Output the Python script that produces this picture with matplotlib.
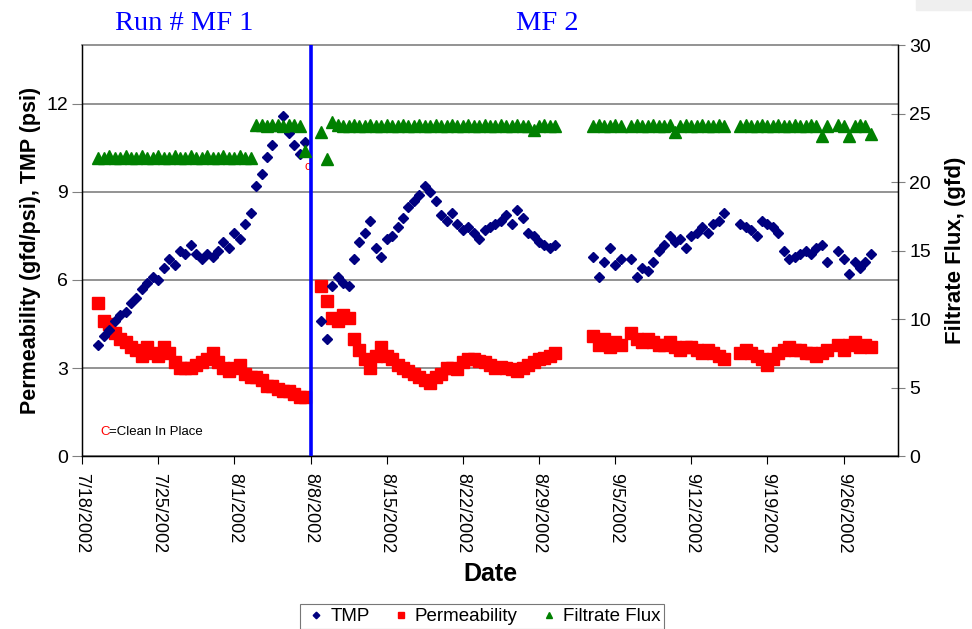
import numpy as np
import pandas as pd
import matplotlib
matplotlib.use('Agg')
import matplotlib.pyplot as plt
from matplotlib.patches import Rectangle

plt.rcParams['font.family'] = ['Liberation Sans', 'DejaVu Sans']

nan = np.nan

# --- run MF 1 (half-day readings) ---
run1_dates = pd.date_range('2002-07-19 12:00', periods=39, freq='12h')
run1_tmp = [3.8, 4.1, 4.3, 4.6, 4.8, 4.9, 5.2, 5.4, 5.7, 5.9,
            6.1, 6.0, 6.4, 6.7, 6.5, 7.0, 6.9, 7.2, 6.9, 6.7,
            6.9, 6.8, 7.0, 7.3, 7.1, 7.6, 7.4, 7.9, 8.3, 9.2,
            9.6, 10.2, 10.6, 11.2, 11.6, 11.0, 10.6, 10.3, 10.7]
run1_perm = [5.2, 4.6, 4.5, 4.2, 4.0, 3.9, 3.7, 3.6, 3.4, 3.7,
             3.5, 3.4, 3.7, 3.5, 3.2, 3.0, 3.0, 3.0, 3.1, 3.2,
             3.3, 3.5, 3.2, 3.0, 2.9, 3.0, 3.1, 2.8, 2.7, 2.7,
             2.6, 2.4, 2.4, 2.3, 2.2, 2.2, 2.1, 2.0, 2.0]
run1_flux = [21.8, 21.8, 21.9, 21.8, 21.8, 21.9, 21.8, 21.8, 21.9, 21.8,
             21.8, 21.9, 21.8, 21.8, 21.9, 21.8, 21.8, 21.9, 21.8, 21.8,
             21.9, 21.8, 21.8, 21.9, 21.8, 21.8, 21.9, 21.8, 21.8, 24.2,
             24.2, 24.1, 24.2, 24.2, 24.1, 24.2, 24.2, 24.1, 22.3]

# --- run MF 2, first part ---
run2a_dates = pd.date_range('2002-08-09 00:00', periods=44, freq='12h')
run2a_tmp = [4.6, 4.0, 5.8, 6.1, 5.9, 5.8, 6.7, 7.3, 7.6, 8.0,
             7.1, 6.8, 7.4, 7.5, 7.8, 8.1, 8.5, 8.7, 8.9, 9.2,
             9.0, 8.7, 8.2, 8.0, 8.3, 7.9, 7.7, 7.8, 7.6, 7.4,
             7.7, 7.8, 7.9, 8.0, 8.2, 7.9, 8.4, 8.1, 7.6, 7.5,
             7.3, 7.2, 7.1, 7.2]
run2a_perm = [5.8, 5.3, 4.7, 4.6, 4.8, 4.7, 4.0, 3.6, 3.3, 3.0,
              3.4, 3.7, 3.4, 3.3, 3.1, 3.0, 2.9, 2.8, 2.7, 2.6,
              2.5, 2.7, 2.8, 3.0, 3.0, 2.95, 3.2, 3.3, 3.3, 3.25,
              3.2, 3.1, 3.0, 3.05, 3.0, 2.95, 2.9, 3.0, 3.1, 3.2,
              3.3, 3.35, 3.4, 3.5]
run2a_flux = [23.7, 21.7, 24.4, 24.2, 24.1, 24.1, 24.2, 24.1, 24.1, 24.2,
              24.1, 24.1, 24.2, 24.1, 24.1, 24.2, 24.1, 24.1, 24.2, 24.1,
              24.1, 24.2, 24.1, 24.1, 24.2, 24.1, 24.1, 24.2, 24.1, 24.1,
              24.2, 24.1, 24.1, 24.2, 24.1, 24.1, 24.2, 24.1, 24.1, 23.8,
              24.1, 24.2, 24.1, 24.1]

# --- run MF 2, second part ---
run2b_dates = pd.date_range('2002-09-03 00:00', periods=52, freq='12h')
run2b_tmp = [6.8, 6.1, 6.6, 7.1, 6.5, 6.7, nan, 6.7, 6.1, 6.4,
             6.3, 6.6, 7.0, 7.2, 7.5, 7.3, 7.4, 7.1, 7.5, 7.6,
             7.8, 7.6, 7.9, 8.0, 8.3, nan, nan, 7.9, 7.8, 7.7,
             7.5, 8.0, 7.9, 7.8, 7.6, 7.0, 6.7, 6.8, 6.9, 7.0,
             6.9, 7.1, 7.2, 6.6, nan, 7.0, 6.7, 6.2, 6.6, 6.4,
             6.6, 6.9]
run2b_perm = [4.1, 3.8, 4.0, 3.7, 3.9, 3.8, nan, 4.2, 4.0, 3.9,
              4.0, 3.9, 3.8, 3.8, 3.9, 3.7, 3.6, 3.7, 3.7, 3.6,
              3.5, 3.6, 3.5, 3.4, 3.3, nan, nan, 3.5, 3.6, 3.5,
              3.4, 3.3, 3.1, 3.3, 3.5, 3.6, 3.7, 3.6, 3.6, 3.5,
              3.5, 3.4, 3.5, 3.6, nan, 3.8, 3.6, 3.8, 3.9, 3.7,
              3.8, 3.7]
run2b_flux = [24.1, 24.2, 24.1, 24.1, 24.2, 24.1, nan, 24.1, 24.2, 24.1,
              24.1, 24.2, 24.1, 24.1, 24.2, 23.7, 24.1, 24.2, 24.1, 24.1,
              24.2, 24.1, 24.1, 24.2, 24.1, nan, nan, 24.1, 24.2, 24.1,
              24.1, 24.2, 24.1, 24.1, 24.2, 24.1, 24.1, 24.2, 24.1, 24.1,
              24.2, 24.1, 23.4, 24.1, nan, 24.2, 24.1, 23.4, 24.1, 24.2,
              24.1, 23.5]

dates = run1_dates.append(run2a_dates).append(run2b_dates)
tmp = run1_tmp + run2a_tmp + run2b_tmp
perm = run1_perm + run2a_perm + run2b_perm
flux = run1_flux + run2a_flux + run2b_flux

cip_date = pd.Timestamp('2002-08-08')
week_ticks = pd.date_range('2002-07-18', '2002-09-26', freq='7D')

fig = plt.figure(figsize=(9.72, 6.29), dpi=100)
fig.patches.append(Rectangle((0.942, 0.984), 0.06, 0.02, transform=fig.transFigure,
                             color='#efefef', zorder=0))
ax = fig.add_axes([0.0844, 0.275, 0.8395, 0.653])
ax2 = ax.twinx()

l1, = ax.plot(dates, tmp, 'D', color='#000080', ms=5.6, mec='#000080', label='TMP', zorder=3)
l2, = ax.plot(dates, perm, 's', color='#ff0000', ms=8, mec='#ff0000', label='Permeability', zorder=2)
l3, = ax2.plot(dates, flux, '^', color='#008000', ms=8, mec='#008000', label='Filtrate Flux')
ax.axvline(cip_date, color='#0000ff', lw=2.6, zorder=4)

ax.set_xlim(pd.Timestamp('2002-07-18'), pd.Timestamp('2002-10-01'))
ax.set_ylim(0, 14)
ax2.set_ylim(0, 30)
ax.set_yticks([0, 3, 6, 9, 12])
ax2.set_yticks([0, 5, 10, 15, 20, 25, 30])
ax.set_xticks(week_ticks)
ax.set_xticklabels([f'{d.month}/{d.day}/{d.year}' for d in week_ticks], rotation=270)
ax.grid(axis='y', color='#808080', lw=1.2)
ax.set_axisbelow(True)

ax.tick_params(axis='y', labelsize=14, length=7, direction='out', color='#808080', pad=3)
ax.tick_params(axis='x', labelsize=13, length=6, direction='out', pad=6)
ax2.tick_params(axis='y', labelsize=14, length=10, direction='inout', color='#808080', pad=3)
ax.spines['top'].set_color('#808080')
ax.spines['top'].set_linewidth(1.2)
ax2.spines['top'].set_visible(False)
for sp in ['left', 'bottom']:
    ax.spines[sp].set_linewidth(1.0)
ax2.spines['right'].set_linewidth(1.0)

ax.set_ylabel('Permeability (gfd/psi), TMP (psi)', fontsize=15.5, fontweight='bold', labelpad=4)
ax2.set_ylabel('Filtrate Flux, (gfd)', fontsize=16, fontweight='bold', labelpad=10)
ax.set_xlabel('Date', fontsize=18, fontweight='bold', labelpad=6)

fig.text(0.19, 0.962, 'Run # MF 1', color='#0000ff', fontsize=20.5,
         family='Liberation Serif', ha='center', va='center')
fig.text(0.563, 0.962, 'MF 2', color='#0000ff', fontsize=20.5,
         family='Liberation Serif', ha='center', va='center')

ax.text(pd.Timestamp('2002-08-07 18:00'), 9.85, 'c', color='#ff0000', fontsize=9,
        ha='center', va='center')
ax.text(0.022, 0.052, 'C', color='#ff0000', fontsize=9.5, transform=ax.transAxes)
ax.text(0.033, 0.052, '=Clean In Place', color='black', fontsize=9.5, transform=ax.transAxes)

leg = fig.legend([l1, l2, l3], ['TMP', 'Permeability', 'Filtrate Flux'],
                 loc='upper center', bbox_to_anchor=(0.496, 0.054), ncol=3,
                 fontsize=13.5, frameon=True, fancybox=False, edgecolor='#555555',
                 markerscale=0.6, handletextpad=0.1, columnspacing=1.0,
                 borderpad=0.2, handlelength=1.3)
leg.get_frame().set_linewidth(0.8)

fig.savefig('out.png', dpi=100)
